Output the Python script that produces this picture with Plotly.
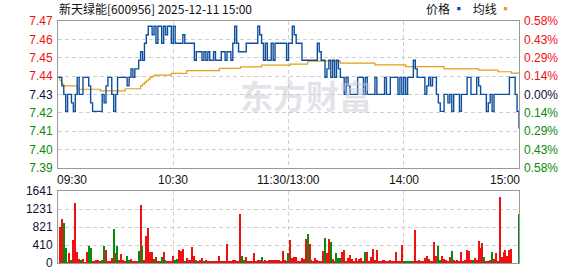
import plotly.graph_objects as go

title_text = "新天绿能[600956] 2025-12-11 15:00"
prev_close = 7.43
pct_max = 0.58

price = [
    7.44, 7.44, 7.435, 7.43, 7.42, 7.43, 7.43, 7.425, 7.42, 7.43,
    7.44, 7.43, 7.43, 7.44, 7.44, 7.44, 7.435, 7.425, 7.42, 7.42,
    7.42, 7.42, 7.42, 7.43, 7.425, 7.435, 7.44, 7.44, 7.43, 7.42,
    7.43, 7.44, 7.44, 7.44, 7.44, 7.44, 7.435, 7.44, 7.445, 7.44,
    7.445, 7.445, 7.45, 7.455, 7.45, 7.46, 7.465, 7.47, 7.47, 7.465,
    7.47, 7.46, 7.47, 7.47, 7.46, 7.47, 7.465, 7.47, 7.47, 7.46,
    7.47, 7.46, 7.46, 7.46, 7.46, 7.465, 7.46, 7.46, 7.46, 7.46,
    7.46, 7.45, 7.455, 7.455, 7.455, 7.45, 7.455, 7.45, 7.455, 7.45,
    7.45, 7.455, 7.45, 7.45, 7.45, 7.455, 7.455, 7.45, 7.455, 7.455,
    7.45, 7.46, 7.47, 7.46, 7.455, 7.455, 7.455, 7.455, 7.46, 7.46,
    7.46, 7.46, 7.46, 7.46, 7.47, 7.465, 7.46, 7.45, 7.46, 7.45,
    7.45, 7.46, 7.45, 7.46, 7.46, 7.46, 7.46, 7.46, 7.46, 7.45,
    7.46, 7.46, 7.47, 7.465, 7.46, 7.46, 7.46, 7.45, 7.45, 7.45,
    7.45, 7.45, 7.45, 7.45, 7.45, 7.46, 7.455, 7.45, 7.45, 7.44,
    7.445, 7.45, 7.44, 7.45, 7.44, 7.45, 7.445, 7.44, 7.44, 7.43,
    7.44, 7.435, 7.43, 7.43, 7.43, 7.43, 7.44, 7.44, 7.44, 7.43,
    7.44, 7.43, 7.43, 7.43, 7.43, 7.44, 7.43, 7.43, 7.43, 7.43,
    7.44, 7.43, 7.43, 7.44, 7.44, 7.44, 7.44, 7.43, 7.44, 7.43,
    7.44, 7.43, 7.44, 7.44, 7.44, 7.45, 7.445, 7.44, 7.44, 7.44,
    7.44, 7.43, 7.435, 7.44, 7.435, 7.44, 7.44, 7.43, 7.425, 7.42,
    7.42, 7.43, 7.43, 7.425, 7.43, 7.42, 7.43, 7.43, 7.43, 7.42,
    7.43, 7.43, 7.43, 7.44, 7.44, 7.43, 7.43, 7.43, 7.44, 7.435,
    7.43, 7.43, 7.43, 7.42, 7.425, 7.43, 7.42, 7.43, 7.43, 7.43,
    7.43, 7.43, 7.43, 7.43, 7.43, 7.44, 7.44, 7.44, 7.43, 7.42,
    7.41,
]

avg_price = [
    7.44, 7.438, 7.436, 7.435, 7.435, 7.435, 7.435, 7.435, 7.435, 7.435,
    7.433, 7.433, 7.433, 7.433, 7.433, 7.433, 7.433, 7.433, 7.433, 7.433,
    7.433, 7.433, 7.432, 7.432, 7.432, 7.432, 7.432, 7.432, 7.432, 7.432,
    7.432, 7.432, 7.432, 7.432, 7.432, 7.4333, 7.4333, 7.4333, 7.4333, 7.4333,
    7.4333, 7.4333, 7.4333, 7.435, 7.436, 7.437, 7.438, 7.439, 7.44, 7.4405,
    7.4413, 7.4413, 7.4413, 7.4413, 7.4413, 7.4413, 7.4413, 7.4413, 7.4413, 7.4423,
    7.4423, 7.4423, 7.4423, 7.4423, 7.4423, 7.4423, 7.4423, 7.444, 7.444, 7.444,
    7.444, 7.444, 7.444, 7.444, 7.444, 7.444, 7.444, 7.444, 7.444, 7.444,
    7.444, 7.444, 7.444, 7.444, 7.4453, 7.4453, 7.4453, 7.4453, 7.4453, 7.4453,
    7.4453, 7.4453, 7.4453, 7.4453, 7.4453, 7.4462, 7.4462, 7.4462, 7.4462, 7.4462,
    7.4462, 7.4462, 7.4462, 7.4462, 7.4462, 7.4462, 7.4472, 7.4472, 7.4472, 7.4472,
    7.4472, 7.4472, 7.4472, 7.4472, 7.4472, 7.4472, 7.4472, 7.4472, 7.4472, 7.4472,
    7.4472, 7.4478, 7.4478, 7.4478, 7.4478, 7.4478, 7.4478, 7.4478, 7.4478, 7.4478,
    7.4495, 7.4495, 7.4495, 7.4495, 7.4495, 7.4495, 7.4495, 7.4495, 7.4495, 7.4495,
    7.4495, 7.4495, 7.4495, 7.4495, 7.4495, 7.4495, 7.4495, 7.4483, 7.4483, 7.4483,
    7.4483, 7.4483, 7.4483, 7.4483, 7.4483, 7.4483, 7.4483, 7.4483, 7.4483, 7.4483,
    7.4483, 7.4483, 7.4483, 7.4483, 7.4483, 7.4473, 7.4473, 7.4473, 7.4473, 7.4473,
    7.4473, 7.4473, 7.4473, 7.4473, 7.4473, 7.4473, 7.4473, 7.4473, 7.4473, 7.4473,
    7.4473, 7.4463, 7.4463, 7.4463, 7.4463, 7.4463, 7.4463, 7.4463, 7.4463, 7.4463,
    7.4463, 7.4463, 7.4463, 7.4463, 7.4463, 7.4463, 7.4463, 7.4463, 7.4463, 7.4463,
    7.4463, 7.445, 7.445, 7.445, 7.445, 7.445, 7.445, 7.445, 7.445, 7.445,
    7.445, 7.445, 7.445, 7.445, 7.445, 7.445, 7.445, 7.445, 7.445, 7.4442,
    7.4442, 7.4442, 7.4442, 7.4442, 7.4442, 7.4442, 7.4442, 7.4442, 7.4442, 7.4433,
    7.4433, 7.4433, 7.4433, 7.4433, 7.4433, 7.4433, 7.4425, 7.4425, 7.4425, 7.4425,
    7.4425,
]

volume = [
    0, 828, 999, 903, 333, 20, 237, 60, 533, 1376,
    244, 80, 60, 90, 20, 244, 385, 333, 40, 40,
    70, 60, 50, 70, 385, 296, 40, 40, 110, 777,
    222, 385, 70, 200, 60, 40, 163, 70, 90, 40,
    40, 40, 272, 1332, 385, 75, 607, 799, 244, 244,
    90, 133, 40, 50, 133, 244, 75, 40, 40, 40,
    155, 70, 90, 296, 272, 325, 50, 110, 60, 70,
    355, 155, 60, 40, 70, 110, 40, 75, 40, 30,
    30, 30, 30, 30, 148, 40, 40, 40, 429, 40,
    40, 70, 60, 40, 40, 1125, 148, 60, 126, 40,
    40, 40, 222, 40, 60, 70, 126, 40, 70, 40,
    70, 60, 60, 70, 60, 70, 40, 266, 60, 40,
    222, 518, 110, 133, 133, 40, 40, 103, 80, 555,
    666, 422, 70, 40, 110, 60, 40, 40, 266, 577,
    222, 555, 488, 90, 40, 222, 110, 110, 244, 296,
    40, 110, 180, 90, 40, 103, 40, 90, 110, 40,
    244, 244, 40, 133, 310, 60, 296, 40, 40, 60,
    70, 40, 40, 70, 40, 40, 244, 40, 40, 407,
    30, 30, 30, 30, 30, 40, 755, 40, 60, 40,
    40, 103, 163, 90, 40, 40, 488, 163, 385, 60,
    163, 90, 70, 40, 133, 266, 60, 40, 60, 40,
    244, 40, 70, 296, 266, 60, 60, 110, 70, 511,
    333, 466, 133, 40, 40, 60, 244, 90, 222, 40,
    1510, 133, 244, 296, 163, 296, 325, 0, 0, 0,
    1110,
]

vol_dir = [
    1, 1, 1, -1, -1, 1, 1, -1, 1, 1,
    1, 1, -1, 1, 1, 1, -1, -1, 1, 1,
    1, 1, 1, -1, -1, 1, 1, 1, 1, -1,
    1, -1, 1, 1, 1, 1, -1, -1, 1, 1,
    1, 1, -1, 1, -1, 1, 1, 1, 1, 1,
    -1, 1, 1, -1, -1, 1, -1, 1, 1, 1,
    1, -1, -1, 1, 1, 1, -1, 1, 1, 1,
    1, 1, -1, 1, 1, 1, -1, 1, 1, 1,
    1, 1, 1, 1, 1, 1, 1, 1, 1, 1,
    1, 1, 1, 1, 1, 1, -1, -1, 1, 1,
    1, 1, 1, 1, 1, 1, -1, 1, 1, 1,
    1, 1, 1, 1, 1, 1, 1, 1, 1, 1,
    -1, 1, 1, 1, 1, 1, 1, 1, 1, 1,
    -1, 1, 1, 1, 1, 1, 1, 1, 1, -1,
    1, 1, -1, 1, 1, -1, -1, -1, 1, 1,
    1, 1, 1, 1, 1, 1, 1, 1, 1, 1,
    -1, 1, 1, 1, 1, 1, 1, 1, 1, 1,
    1, 1, 1, 1, 1, 1, 1, 1, 1, 1,
    -1, -1, -1, -1, -1, 1, 1, 1, 1, 1,
    1, 1, 1, 1, 1, 1, 1, 1, -1, -1,
    1, 1, 1, 1, 1, -1, 1, 1, 1, 1,
    1, 1, 1, 1, 1, 1, -1, 1, 1, 1,
    1, 1, -1, 1, 1, 1, -1, 1, 1, 1,
    1, 1, 1, 1, 1, 1, 1, 1, 1, 1,
    -1,
]

price_labels = ["7.47", "7.46", "7.45", "7.44", "7.43", "7.42", "7.41", "7.40", "7.39"]
pct_labels = ["0.58%", "0.43%", "0.29%", "0.14%", "0.00%", "0.14%", "0.29%", "0.43%", "0.58%"]
vol_ticks = [0, 410, 821, 1231, 1641]
time_labels = ["09:30", "10:30", "11:30/13:00", "14:00", "15:00"]
time_pos = [0, 60, 120, 180, 240]

RED = "#f01010"
GREEN = "#0a8a0a"
BLACK = "#111133"
BLUE = "#0d4f9f"
GOLD = "#e0a018"
GRID = "#cfcfcf"
FRAME = "#9a9a9a"
NUMFONT = "Liberation Sans, Arial, sans-serif"
CJKFONT = "Noto Sans CJK SC, sans-serif"

n_price = len(price)
minutes = list(range(n_price))
top = prev_close * (1 + pct_max / 100)
bot = prev_close * (1 - pct_max / 100)
nt = len(price_labels)
grid_vals = [top - (top - bot) * k / (nt - 1) for k in range(nt)]


def colored(vals, labels):
    out = []
    for v, t in zip(vals, labels):
        if abs(v - prev_close) < 1e-6:
            c = BLACK
        elif v > prev_close:
            c = RED
        else:
            c = GREEN
        out.append('<span style="color:%s">%s</span>' % (c, t))
    return out


bar_colors = [RED if d > 0 else GREEN for d in vol_dir]

fig = go.Figure()
fig.add_trace(go.Scatter(x=minutes, y=avg_price, mode="lines",
                         line=dict(color=GOLD, width=1.2, shape="hv"),
                         xaxis="x", yaxis="y", hoverinfo="skip"))
fig.add_trace(go.Scatter(x=minutes, y=price, mode="lines",
                         line=dict(color=BLUE, width=1.4, shape="hv"),
                         xaxis="x", yaxis="y"))
fig.add_trace(go.Scatter(x=[0], y=[prev_close], mode="markers",
                         marker=dict(opacity=0), xaxis="x", yaxis="y3",
                         hoverinfo="skip"))
fig.add_trace(go.Bar(x=list(range(len(volume))), y=volume, marker_color=bar_colors,
                     marker_line_width=0, width=0.6, xaxis="x2", yaxis="y2"))

axis_common = dict(showline=True, mirror=True, linecolor=FRAME, linewidth=1,
                   zeroline=False, ticks="", gridcolor=GRID, griddash="4px,3px",
                   gridwidth=1)

fig.update_layout(
    width=578, height=276,
    margin=dict(l=58, r=59, t=21, b=6),
    paper_bgcolor="white", plot_bgcolor="white",
    showlegend=False, bargap=0,
    xaxis=dict(domain=[0, 1], anchor="y", range=[0, 240], tickvals=time_pos[1:-1],
               showticklabels=False, showgrid=True, **axis_common),
    yaxis=dict(domain=[0.3936, 1], anchor="x", range=[bot, top], tickvals=grid_vals,
               ticktext=colored(grid_vals, price_labels), showgrid=True,
               tickfont=dict(family=NUMFONT, size=12), ticklabelstandoff=2,
               **axis_common),
    yaxis3=dict(overlaying="y", side="right", anchor="x", range=[bot, top],
                tickvals=grid_vals, ticktext=colored(grid_vals, pct_labels),
                showgrid=False, showline=False, zeroline=False, ticks="",
                tickfont=dict(family=NUMFONT, size=12), ticklabelstandoff=4),
    xaxis2=dict(domain=[0, 1], anchor="y2", range=[0, 240], tickvals=time_pos[1:-1],
                showticklabels=False, showgrid=True, **axis_common),
    yaxis2=dict(domain=[0, 0.2972], anchor="x2", range=[0, 1641], tickvals=vol_ticks,
                ticktext=[str(v) for v in vol_ticks], showgrid=True,
                tickfont=dict(family=NUMFONT, size=12, color=BLACK), ticklabelstandoff=2,
                **axis_common),
)

annotations = []
for i, (pos, lab) in enumerate(zip(time_pos, time_labels)):
    if i == 0:
        anchor, shift = "left", -3
    elif i == len(time_pos) - 1:
        anchor, shift = "right", 3
    else:
        anchor, shift = "center", 0
    annotations.append(dict(x=pos, xref="x", y=0.345, yref="paper", text=lab,
                            showarrow=False, xanchor=anchor, yanchor="middle",
                            xshift=shift,
                            font=dict(family=NUMFONT, size=12, color="#111")))

annotations.append(dict(x=0, xref="paper", y=1.05, yref="paper", text=title_text,
                        showarrow=False, xanchor="left", yanchor="middle",
                        xshift=-1, font=dict(family=CJKFONT, size=12, color="#111")))
annotations.append(dict(x=0.99, xref="paper", y=1.05, yref="paper",
                        text='价格 <span style="color:%s">▪</span>   均线 <span style="color:%s">▪</span>' % (BLUE, GOLD),
                        showarrow=False, xanchor="right", yanchor="middle",
                        font=dict(family=CJKFONT, size=12, color="#111")))
annotations.append(dict(x=0.538, xref="paper", y=0.695, yref="paper",
                        text="<b>东方财富</b>", showarrow=False,
                        xanchor="center", yanchor="middle",
                        font=dict(family=CJKFONT, size=33, color="rgba(200,200,212,0.5)")))
fig.update_layout(annotations=annotations)

fig.write_html("out.html")
